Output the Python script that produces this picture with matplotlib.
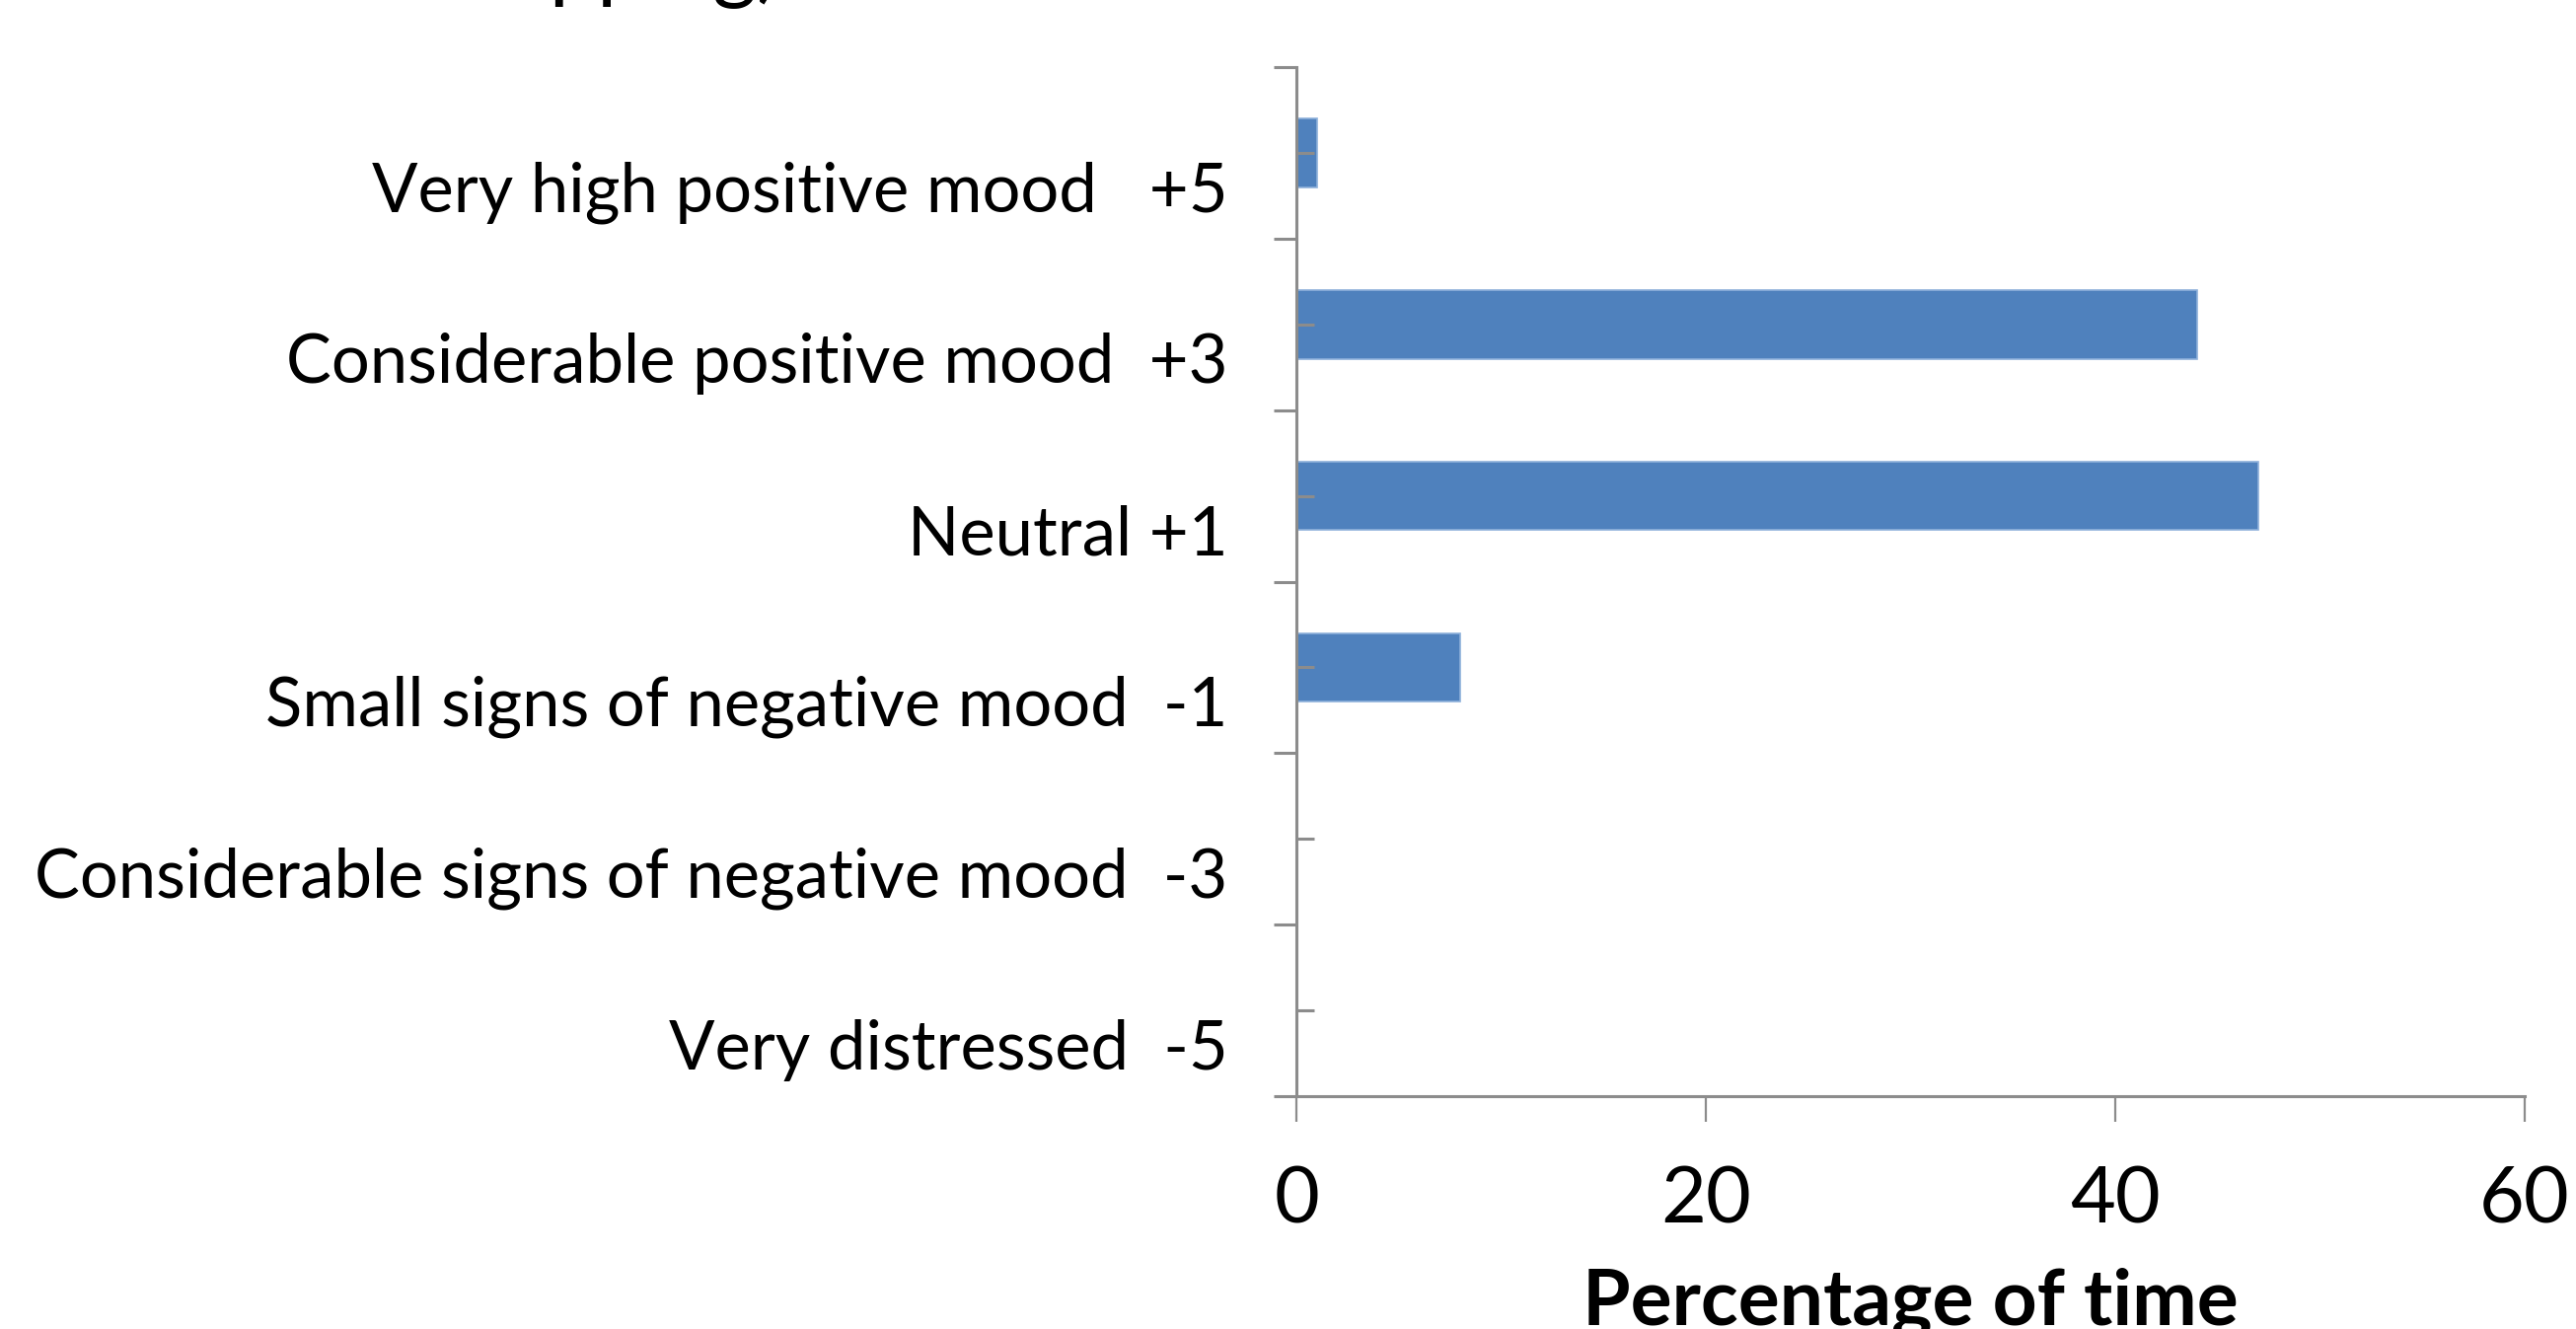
import matplotlib
matplotlib.use("Agg")
import matplotlib.pyplot as plt
from matplotlib.transforms import ScaledTranslation

categories = ["Very distressed  -5",
              "Considerable signs of negative mood  -3",
              "Small signs of negative mood  -1",
              "Neutral +1",
              "Considerable positive mood  +3",
              "Very high positive mood   +5"]
values = [0, 0, 8, 47, 44, 1]
xticks = [0, 20, 40, 60]
title_text = "Mapping)"
xlabel_text = "Percentage of time"

FONT = "Lato"
BAR = "#4F81BD"
AX = "#8C8C8C"

fig = plt.figure(figsize=(26.11, 13.47), dpi=100)
ax = fig.add_axes([0.5033, 0.1752, 0.9801 - 0.5033, 0.9495 - 0.1752])

pos = list(range(len(categories)))
ax.barh(pos, values, height=0.4, color=BAR, edgecolor="#8EB0DA", linewidth=1.2, zorder=1)

ax.set_xlim(0, 60)
ax.set_ylim(-0.5, len(categories) - 0.5)

for s in ["top", "right"]:
    ax.spines[s].set_visible(False)
for s in ["left", "bottom"]:
    ax.spines[s].set_color(AX)
    ax.spines[s].set_linewidth(2.2)

ax.set_xticks(xticks)
ax.set_xticklabels([str(v) for v in xticks], fontfamily=FONT, fontsize=57)
ax.tick_params(axis="x", which="major", direction="out", length=19, width=1.6,
               color=AX, pad=32)

bounds = [p - 0.5 for p in pos] + [pos[-1] + 0.5]
ax.set_yticks(bounds)
ax.set_yticklabels([])
ax.tick_params(axis="y", which="major", direction="out", length=16.5, width=2.2, color=AX)
ax.set_yticks(pos, minor=True)
ax.set_yticklabels(categories, minor=True, fontfamily=FONT, fontsize=49.5)
ax.tick_params(axis="y", which="minor", direction="in", length=13, width=2.2,
               color=AX, pad=50)
off = ScaledTranslation(0, -0.34, fig.dpi_scale_trans)
for lab in ax.get_yticklabels(minor=True):
    lab.set_transform(lab.get_transform() + off)

ax.set_xlabel(xlabel_text, fontfamily=FONT, fontweight="bold", fontsize=56.5, labelpad=22)

fig.text(0.3026, 1.006, title_text, ha="right", va="baseline",
         fontfamily=FONT, fontsize=62)

fig.savefig("out.png", dpi=100)
